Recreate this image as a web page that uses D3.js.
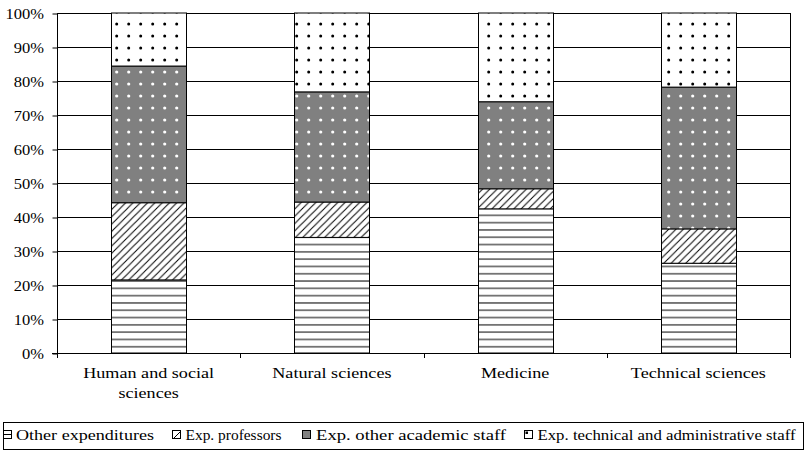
<!DOCTYPE html>
<html>
<head>
<meta charset="utf-8">
<script src="https://cdn.jsdelivr.net/npm/d3@7"></script>
<style>
  body { margin: 0; background: #fff; }
</style>
</head>
<body>
<script>
// data (percent of total per field)
var categories = ["Human and social sciences", "Natural sciences", "Medicine", "Technical sciences"];
var categoryLines = [["Human and social", "sciences"], ["Natural sciences"], ["Medicine"], ["Technical sciences"]];
var otherExp     = [21.5, 34.0, 42.4, 26.4];
var profExp      = [22.7, 10.4, 5.9, 10.1];
var academicExp  = [40.2, 32.4, 25.6, 41.7];
var technicalExp = [15.6, 23.2, 26.1, 21.8];
var seriesKeys   = ["other", "prof", "academic", "technical"];
var seriesNames  = ["Other expenditures", "Exp. professors", "Exp. other academic staff", "Exp. technical and administrative staff"];
var yTicks       = [0, 0.1, 0.2, 0.3, 0.4, 0.5, 0.6, 0.7, 0.8, 0.9, 1];

var FONT = "'Liberation Serif', 'DejaVu Serif', serif";

window.onload = function(){

    var w = 806, h = 452;
    var left = 57, right = 790, top = 13, bottom = 353;

    var svg = d3.select("body")
        .append("svg")
        .attr("width", w)
        .attr("height", h)
        .style("font-family", FONT);

    // patterns
    var defs = svg.append("defs");

    var pHl = defs.append("pattern")                 // horizontal lines
        .attr("id", "pat-other")
        .attr("patternUnits", "userSpaceOnUse")
        .attr("width", 8).attr("height", 7.3);
    pHl.append("rect").attr("width", 8).attr("height", 7.3).attr("fill", "#fff");
    pHl.append("path").attr("d", "M0,3.65H8").attr("stroke", "#000").attr("stroke-width", 1);

    var pDg = defs.append("pattern")                 // diagonal hatch
        .attr("id", "pat-prof")
        .attr("patternUnits", "userSpaceOnUse")
        .attr("width", 7.3).attr("height", 7.3);
    pDg.append("rect").attr("width", 7.3).attr("height", 7.3).attr("fill", "#fff");
    pDg.append("path")
        .attr("d", "M-1,8.3L8.3,-1M-1,1L1,-1M6.3,8.3L8.3,6.3")
        .attr("stroke", "#000").attr("stroke-width", 1);

    var pGd = defs.append("pattern")                 // gray with white dots
        .attr("id", "pat-academic")
        .attr("patternUnits", "userSpaceOnUse")
        .attr("width", 12).attr("height", 12);
    pGd.append("rect").attr("width", 12).attr("height", 12).attr("fill", "#808080");
    pGd.append("circle").attr("cx", 8.7).attr("cy", 0).attr("r", 1.6).attr("fill", "#fff");
    pGd.append("circle").attr("cx", 8.7).attr("cy", 12).attr("r", 1.6).attr("fill", "#fff");

    var pWd = defs.append("pattern")                 // white with black dots
        .attr("id", "pat-technical")
        .attr("patternUnits", "userSpaceOnUse")
        .attr("width", 12).attr("height", 12);
    pWd.append("rect").attr("width", 12).attr("height", 12).attr("fill", "#fff");
    pWd.append("circle").attr("cx", 8.7).attr("cy", 0).attr("r", 1.5).attr("fill", "#000");
    pWd.append("circle").attr("cx", 8.7).attr("cy", 12).attr("r", 1.5).attr("fill", "#000");

    // scales
    var x = d3.scaleBand()
        .domain(categories)
        .range([left, right])
        .paddingInner(0.59)
        .paddingOuter(0.295);

    var y = d3.scaleLinear()
        .domain([0, 1])
        .range([bottom, top]);

    // gridlines
    svg.append("g")
        .attr("class", "grid")
        .selectAll("line")
        .data(yTicks)
        .enter()
        .append("line")
        .attr("x1", left)
        .attr("x2", right)
        .attr("y1", function(d){ return Math.round(y(d)) + 0.5; })
        .attr("y2", function(d){ return Math.round(y(d)) + 0.5; })
        .attr("stroke", "#000")
        .attr("stroke-width", 1);

    svg.append("line")                               // right border
        .attr("x1", right + 0.5).attr("x2", right + 0.5)
        .attr("y1", top).attr("y2", bottom + 1)
        .attr("stroke", "#000");

    // stacked bars
    var rows = categories.map(function(c, i){
        return { cat: c, other: otherExp[i] / 100, prof: profExp[i] / 100,
                 academic: academicExp[i] / 100, technical: technicalExp[i] / 100 };
    });
    var stacked = d3.stack().keys(seriesKeys)(rows);

    var layers = svg.selectAll(".layer")
        .data(stacked)
        .enter()
        .append("g")
        .attr("class", "layer")
        .attr("fill", function(d){ return "url(#pat-" + d.key + ")"; });

    layers.selectAll("rect")
        .data(function(d){ return d; })
        .enter()
        .append("rect")
        .attr("x", function(d){ return Math.round(x(d.data.cat)) + 0.5; })
        .attr("width", Math.round(x.bandwidth()))
        .attr("y", function(d){ return y(d[1]); })
        .attr("height", function(d){ return y(d[0]) - y(d[1]); })
        .attr("stroke", "#000")
        .attr("stroke-width", 1);

    // y axis (labels are slightly wide in the original, hence the x stretch)
    var yAxis = d3.axisLeft(y)
        .tickValues(yTicks)
        .tickFormat(d3.format(".0%"))
        .tickSize(5)
        .tickPadding(7.3);

    var yg = svg.append("g")
        .attr("transform", "translate(" + (left + 0.5) + ",0.5)")
        .call(yAxis)
        .attr("font-family", null)
        .attr("font-size", null);
    yg.select(".domain").attr("d", "M0," + top + "V" + bottom);
    yg.selectAll("text")
        .style("font-family", FONT)
        .style("font-size", "15px")
        .attr("dy", "0.35em")
        .attr("transform", "scale(1.1,1)");

    // x axis line with ticks at category boundaries
    var bounds = [left].concat(categories.map(function(c){ return x(c) + x.bandwidth() / 2 + x.step() / 2; }));
    var xg = svg.append("g");
    xg.append("line")
        .attr("x1", left - 5).attr("x2", right + 1)
        .attr("y1", bottom + 0.5).attr("y2", bottom + 0.5)
        .attr("stroke", "#000");
    xg.selectAll(".xtick")
        .data(bounds)
        .enter()
        .append("line")
        .attr("class", "xtick")
        .attr("x1", function(d){ return Math.round(d) + 0.5; })
        .attr("x2", function(d){ return Math.round(d) + 0.5; })
        .attr("y1", bottom).attr("y2", bottom + 5)
        .attr("stroke", "#000");

    var xlabels = xg.selectAll(".xlabel")
        .data(categories)
        .enter()
        .append("text")
        .attr("class", "xlabel")
        .attr("text-anchor", "middle")
        .attr("transform", function(d){
            return "translate(" + (x(d) + x.bandwidth() / 2) + ",377.5) scale(1.17,1)";
        })
        .style("font-family", FONT)
        .style("font-size", "15.5px");
    xlabels.selectAll("tspan")
        .data(function(d, i){ return categoryLines[i]; })
        .enter()
        .append("tspan")
        .attr("x", 0)
        .attr("dy", function(d, i){ return i === 0 ? 0 : 20.5; })
        .text(function(d){ return d; });

    // legend
    var legend = svg.append("g").attr("class", "legend");
    legend.append("rect")
        .attr("x", 3.5).attr("y", 422.5)
        .attr("width", 800).attr("height", 27)
        .attr("fill", "#fff").attr("stroke", "#000");

    var iconX = [3.5, 172.5, 302.5, 524.5];
    var textX = [16, 185.5, 316, 537.5];
    var textW = [138, 96, 190, 258];

    var items = legend.selectAll(".item")
        .data(seriesKeys)
        .enter()
        .append("g")
        .attr("class", "item")
        .attr("transform", function(d, i){ return "translate(" + iconX[i] + ",430.5)"; });

    items.append("rect")
        .attr("width", 8).attr("height", 8)
        .attr("fill", function(d){ return d === "academic" ? "#808080" : "#fff"; })
        .attr("stroke", "#000");
    items.filter(function(d){ return d === "other"; })
        .append("path").attr("d", "M0,4H8").attr("stroke", "#000");
    items.filter(function(d){ return d === "prof"; })
        .append("path").attr("d", "M1,8L8,1").attr("stroke", "#000");
    items.filter(function(d){ return d === "technical"; })
        .append("rect").attr("x", 1).attr("y", 1).attr("width", 2.5).attr("height", 2.5).attr("fill", "#000");

    legend.selectAll(".ltext")
        .data(seriesNames)
        .enter()
        .append("text")
        .attr("class", "ltext")
        .attr("x", function(d, i){ return textX[i]; })
        .attr("y", 440)
        .attr("textLength", function(d, i){ return textW[i]; })
        .attr("lengthAdjust", "spacingAndGlyphs")
        .style("font-family", FONT)
        .style("font-size", "15.5px")
        .text(function(d){ return d; });
};
</script>
</body>
</html>
